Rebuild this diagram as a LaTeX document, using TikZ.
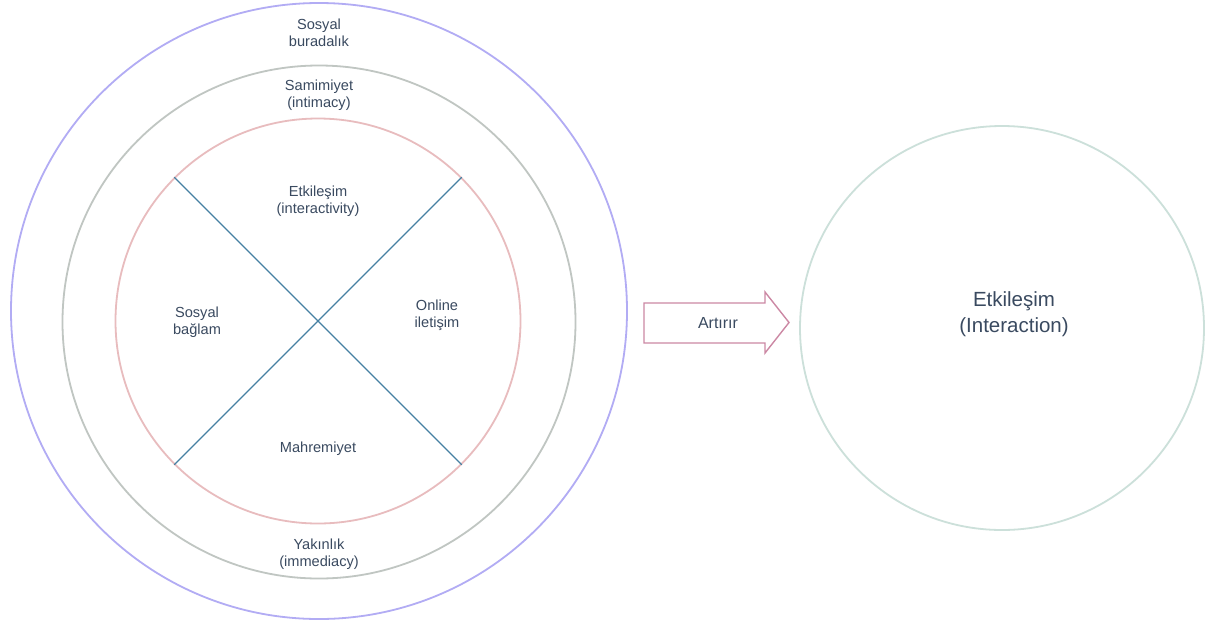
\documentclass[tikz,border=0pt]{standalone}
\usepackage{fontspec}
\setmainfont{Liberation Sans}
\definecolor{ink}{RGB}{58,74,96}
\definecolor{outerring}{RGB}{178,172,244}
\definecolor{midring}{RGB}{192,198,194}
\definecolor{innerring}{RGB}{232,188,190}
\definecolor{resultring}{RGB}{204,224,218}
\definecolor{divider}{RGB}{70,128,162}
\definecolor{arrowline}{RGB}{204,136,164}
\begin{document}
\begin{tikzpicture}[x=1pt,y=-1pt,
  ring/.style={circle, draw, inner sep=0pt, line width=1.8pt},
  lbl/.style={text=ink, align=center, inner sep=0pt, font=\fontsize{14.6}{17}\selectfont},
  biglbl/.style={text=ink, align=center, inner sep=0pt, font=\fontsize{20.5}{26}\selectfont},
  divline/.style={draw=divider, line width=1.1pt}]
\useasboundingbox (0,0) rectangle (1206,622);
\fill[white] (0,0) rectangle (1206,622);

% concentric rings
\node[ring, draw=outerring, minimum size=616pt] (outer) at (319,311) {};
\node[ring, draw=midring, minimum size=513pt] (mid) at (319,322) {};
\node[ring, draw=innerring, minimum size=405pt] (inner) at (318,321) {};

% the two diagonals splitting the inner ring into quadrants
\draw[divline] (inner.135) -- (inner.-45);
\draw[divline] (inner.45) -- (inner.-135);

% ring labels
\node[lbl] (presence) at (319,33) {Sosyal\\buradalık};
\node[lbl] (intimacy) at (319,95) {Samimiyet\\(intimacy)};
\node[lbl] (immediacy) at (319,554) {Yakınlık\\(immediacy)};

% quadrant labels
\node[lbl] (interactivity) at (318,201) {Etkileşim\\(interactivity)};
\node[lbl] (context) at (197,322) {Sosyal\\bağlam};
\node[lbl] (online) at (437,315) {Online\\iletişim};
\node[lbl] (privacy) at (318,449) {Mahremiyet};

% block arrow
\draw[draw=arrowline, line width=1.4pt, line join=miter]
  (644,303) -- (765,303) -- (765,292) -- (789,322.5) -- (765,353) -- (765,343) -- (644,343) -- cycle;
\node[lbl, font=\fontsize{16}{17}\selectfont] (increases) at (718,323) {Artırır};

% result circle
\node[ring, draw=resultring, minimum size=404pt] (result) at (1002,328) {};
\node[biglbl] (interaction) at (1014,314) {Etkileşim\\(Interaction)};
\end{tikzpicture}
\end{document}
